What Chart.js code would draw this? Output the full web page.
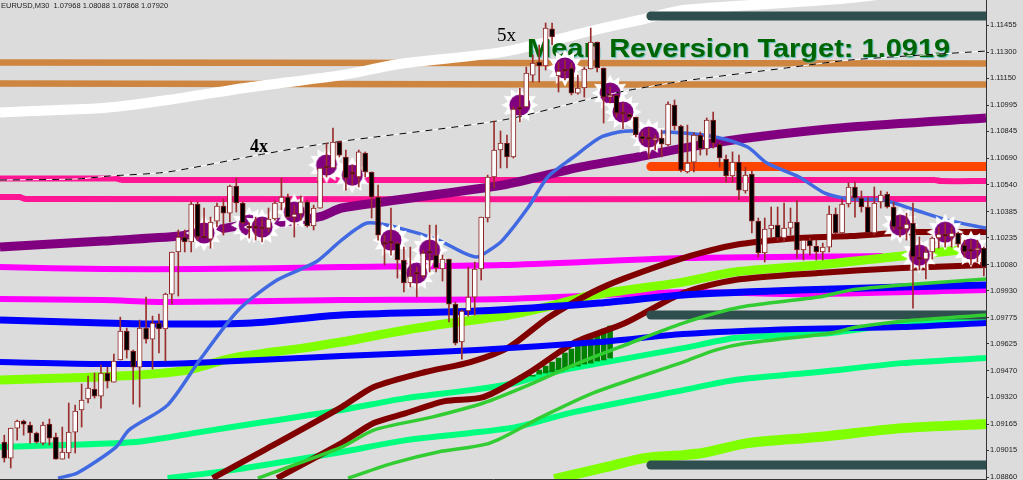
<!DOCTYPE html>
<html>
<head>
<meta charset="utf-8">
<title>EURUSD M30</title>
<script src="https://cdn.jsdelivr.net/npm/chart.js@4"></script>
<style>
  html, body { margin: 0; padding: 0; background: #dcdcdc; overflow: hidden; }
  canvas { display: block; }
</style>
</head>
<body>
<canvas id="chart" width="1023" height="480"></canvas>
<script>
// price axis labels as the platform prints them
const tickPrices = [1.11455, 1.113, 1.1115, 1.10995, 1.10845, 1.1069, 1.1054, 1.10385, 1.10235, 1.1008, 1.0993, 1.09775, 1.09625, 1.0947, 1.0932, 1.09165, 1.09015, 1.0886];

// candles, one per M30 bar, left to right
const candleOpen = [
  1.09062,1.08970,1.09142,1.09182,1.09159,1.09114,1.09056,1.09165,1.09091,1.08964,
  1.08999,1.09119,1.09246,1.09309,1.09366,1.09326,1.09458,1.09406,1.09533,1.09699,
  1.09584,1.09492,1.09716,1.09653,1.09745,1.09711,1.09911,1.10153,1.10239,1.10210,
  1.10428,1.10244,1.10227,1.10330,1.10417,1.10376,1.10531,1.10434,1.10302,1.10302,
  1.10296,1.10290,1.10342,1.10434,1.10468,1.10353,1.10371,1.10440,1.10302,1.10405,
  1.10646,1.10635,1.10784,1.10698,1.10612,1.10583,1.10721,1.10612,1.10468,1.10210,
  1.10216,1.10204,1.10107,1.09975,1.10038,1.10015,1.10158,1.10135,1.10055,1.10112,
  1.09854,1.09636,1.09814,1.09894,1.10055,1.10348,1.10583,1.10738,1.10778,1.10698,
  1.10985,1.10985,1.11168,1.11243,1.11220,1.11433,1.11163,1.11203,1.11209,1.11065,
  1.11094,1.11203,1.11358,1.11209,1.11042,1.11054,1.10956,1.10945,1.10927,1.10818,
  1.10813,1.10795,1.10807,1.10767,1.10996,1.10876,1.10612,1.10669,1.10824,1.10744,
  1.10910,1.10772,1.10686,1.10589,1.10669,1.10503,1.10600,1.10330,1.10147,1.10285,
  1.10307,1.10233,1.10290,1.10325,1.10164,1.10221,1.10187,1.10153,1.10181,1.10371,
  1.10262,1.10428,1.10526,1.10462,1.10411,1.10262,1.10440,1.10485,1.10411,1.10296,
  1.10285,1.10319,1.10124,1.10112,1.10153,1.10233,1.10256,1.10239,1.10262,1.10193,
  1.10170,1.10164,1.10175];
const candleClose = [
  1.08970,1.09142,1.09182,1.09165,1.09114,1.09062,1.09159,1.09085,1.08964,1.09005,
  1.09119,1.09240,1.09303,1.09372,1.09326,1.09458,1.09412,1.09527,1.09699,1.09590,
  1.09492,1.09716,1.09653,1.09745,1.09711,1.09911,1.10153,1.10239,1.10210,1.10428,
  1.10239,1.10233,1.10325,1.10417,1.10376,1.10531,1.10434,1.10319,1.10290,1.10290,
  1.10285,1.10342,1.10434,1.10468,1.10353,1.10371,1.10440,1.10302,1.10405,1.10635,
  1.10635,1.10784,1.10709,1.10577,1.10600,1.10727,1.10612,1.10468,1.10250,1.10198,
  1.10204,1.10107,1.09975,1.10015,1.10026,1.10147,1.10147,1.10061,1.10112,1.09854,
  1.09630,1.09814,1.09894,1.10055,1.10353,1.10583,1.10738,1.10778,1.10698,1.10973,
  1.10973,1.11180,1.11237,1.11220,1.11438,1.11387,1.11191,1.11191,1.11065,1.11094,
  1.11203,1.11358,1.11209,1.11042,1.11054,1.10950,1.10945,1.10927,1.10824,1.10801,
  1.10801,1.10807,1.10772,1.11002,1.10876,1.10623,1.10663,1.10824,1.10744,1.10910,
  1.10778,1.10692,1.10589,1.10669,1.10508,1.10594,1.10330,1.10147,1.10285,1.10307,
  1.10233,1.10290,1.10325,1.10164,1.10221,1.10187,1.10153,1.10181,1.10371,1.10262,
  1.10428,1.10526,1.10462,1.10411,1.10262,1.10434,1.10480,1.10411,1.10296,1.10285,
  1.10313,1.10124,1.10112,1.10153,1.10233,1.10256,1.10244,1.10262,1.10198,1.10153,
  1.10158,1.10175,1.10066];
const candleHigh = [
  1.09102,1.09142,1.09188,1.09188,1.09177,1.09119,1.09177,1.09194,1.09114,1.09148,
  1.09286,1.09274,1.09395,1.09441,1.09458,1.09504,1.09492,1.09567,1.09779,1.09716,
  1.09590,1.09762,1.09894,1.09785,1.09797,1.09917,1.10153,1.10279,1.10279,1.10440,
  1.10440,1.10405,1.10353,1.10434,1.10457,1.10537,1.10577,1.10440,1.10319,1.10353,
  1.10348,1.10405,1.10445,1.10577,1.10485,1.10422,1.10474,1.10451,1.10422,1.10635,
  1.10778,1.10864,1.10790,1.10738,1.10652,1.10738,1.10727,1.10612,1.10537,1.10250,
  1.10405,1.10210,1.10181,1.10181,1.10066,1.10164,1.10307,1.10307,1.10135,1.10112,
  1.09866,1.09820,1.10066,1.10095,1.10353,1.10594,1.10904,1.10847,1.10824,1.10985,
  1.11094,1.11214,1.11283,1.11341,1.11467,1.11467,1.11243,1.11255,1.11237,1.11168,
  1.11214,1.11438,1.11358,1.11209,1.11100,1.11054,1.11008,1.10950,1.10927,1.10841,
  1.10864,1.10824,1.10853,1.11014,1.11025,1.10881,1.10881,1.10836,1.10841,1.10922,
  1.10956,1.10778,1.10709,1.10727,1.10709,1.10640,1.10617,1.10348,1.10348,1.10411,
  1.10411,1.10434,1.10405,1.10451,1.10221,1.10233,1.10221,1.10204,1.10417,1.10405,
  1.10457,1.10549,1.10554,1.10503,1.10468,1.10526,1.10503,1.10497,1.10440,1.10365,
  1.10376,1.10434,1.10239,1.10181,1.10239,1.10296,1.10319,1.10296,1.10267,1.10221,
  1.10221,1.10221,1.10181];
const candleLow = [
  1.08947,1.08913,1.09073,1.09102,1.09056,1.09056,1.09045,1.09045,1.08964,1.08964,
  1.08970,1.08999,1.09148,1.09286,1.09314,1.09257,1.09372,1.09406,1.09533,1.09544,
  1.09280,1.09263,1.09630,1.09481,1.09573,1.09527,1.09854,1.09900,1.10153,1.10153,
  1.10221,1.10233,1.10175,1.10296,1.10250,1.10325,1.10382,1.10313,1.10233,1.10221,
  1.10210,1.10267,1.10336,1.10394,1.10348,1.10239,1.10336,1.10296,1.10279,1.10405,
  1.10583,1.10635,1.10698,1.10508,1.10537,1.10526,1.10583,1.10348,1.10221,1.10078,
  1.10135,1.10003,1.09923,1.09952,1.09894,1.10003,1.10038,1.10038,1.09986,1.09751,
  1.09619,1.09538,1.09785,1.09791,1.09992,1.10325,1.10520,1.10635,1.10635,1.10692,
  1.10899,1.10985,1.11128,1.11128,1.11197,1.11341,1.11071,1.11140,1.11054,1.11059,
  1.11042,1.11203,1.11186,1.10893,1.11008,1.10927,1.10859,1.10910,1.10813,1.10778,
  1.10692,1.10738,1.10698,1.10761,1.10853,1.10612,1.10606,1.10612,1.10709,1.10709,
  1.10749,1.10640,1.10554,1.10554,1.10451,1.10491,1.10262,1.10124,1.10095,1.10233,
  1.10221,1.10210,1.10250,1.10118,1.10107,1.10135,1.10107,1.10107,1.10153,1.10256,
  1.10256,1.10411,1.10353,1.10382,1.10262,1.10250,1.10405,1.10405,1.10279,1.10239,
  1.10221,1.09831,1.10049,1.09998,1.10112,1.10175,1.10181,1.10181,1.10181,1.10124,
  1.10078,1.10095,1.10015];

// moving averages and levels: bar positions and their prices
const copperUpperBars = [0, 153];
const copperUpperPrices = [1.1124, 1.11235];
const copperLowerBars = [0, 92, 153];
const copperLowerPrices = [1.1112, 1.11114, 1.11114];
const whiteBars = [0, 5, 16, 26, 39, 53, 62, 78, 93, 100, 106, 132, 153];
const whitePrices = [1.10953, 1.10962, 1.10979, 1.11025, 1.111, 1.11168, 1.11232, 1.11301, 1.11433, 1.1149, 1.11542, 1.1161, 1.11714];
const trendBars = [0, 12, 17, 26, 40, 51, 78, 92, 97, 106, 122, 132, 153];
const trendPrices = [1.10566, 1.10572, 1.10589, 1.10612, 1.10709, 1.10778, 1.1091, 1.11036, 1.11077, 1.11134, 1.11209, 1.11255, 1.11306];
const pinkUpperBars = [0, 18, 19, 145, 146, 153];
const pinkUpperPrices = [1.10574, 1.10574, 1.10566, 1.10566, 1.1056, 1.1056];
const pinkLowerBars = [0, 3, 4, 153];
const pinkLowerPrices = [1.10468, 1.10468, 1.10457, 1.10457];
const purpleBars = [0, 16, 28, 31, 35, 39, 44, 50, 53, 78, 90, 99, 106, 116, 132, 153];
const purplePrices = [1.10181, 1.10216, 1.10244, 1.10267, 1.1029, 1.10313, 1.10325, 1.10359, 1.10405, 1.10537, 1.1064, 1.10698, 1.10749, 1.10807, 1.1087, 1.10922];
const royalBars = [9, 12, 18, 20, 26, 31, 37, 43, 49, 53, 57, 62, 68, 72, 74, 76, 78, 82, 85, 89, 93, 96, 98, 106, 111, 116, 119, 124, 128, 132, 137, 142, 147, 153];
const royalPrices = [1.08855, 1.08884, 1.09033, 1.09131, 1.09274, 1.09533, 1.0982, 1.09992, 1.10095, 1.10221, 1.10319, 1.1029, 1.10221, 1.10147, 1.10124, 1.10164, 1.10221, 1.10411, 1.10583, 1.10698, 1.10807, 1.10841, 1.10847, 1.10836, 1.10813, 1.10755, 1.10663, 1.10583, 1.10491, 1.10457, 1.10451, 1.10394, 1.10336, 1.1029];
const magentaUpperBars = [0, 16, 31, 53, 78, 106, 137];
const magentaUpperPrices = [1.10066, 1.10055, 1.10055, 1.10066, 1.10078, 1.10118, 1.1013];
const magentaLowerBars = [0, 16, 26, 53, 78, 106, 124, 153];
const magentaLowerPrices = [1.09883, 1.09877, 1.09866, 1.09877, 1.09883, 1.09923, 1.09911, 1.09934];
const blueUpperBars = [0, 16, 26, 39, 53, 74, 93, 106, 124, 140, 153];
const blueUpperPrices = [1.09762, 1.09745, 1.09739, 1.09745, 1.09791, 1.09814, 1.0986, 1.09906, 1.09934, 1.09952, 1.09963];
const blueLowerBars = [0, 16, 29, 53, 74, 93, 106, 124, 140, 153];
const blueLowerPrices = [1.09521, 1.0951, 1.09515, 1.09556, 1.0959, 1.09636, 1.09682, 1.09711, 1.09722, 1.09745];
const limeUpperBars = [0, 10, 21, 29, 36, 47, 53, 63, 70, 79, 86, 92, 106, 114, 127, 137, 149];
const limeUpperPrices = [1.09418, 1.09429, 1.09446, 1.09475, 1.09544, 1.09601, 1.09636, 1.09705, 1.09745, 1.09791, 1.09848, 1.09906, 1.0998, 1.10038, 1.10078, 1.10118, 1.10164];
const limeLowerBars = [86, 94, 100, 106, 109, 116, 127, 140, 153];
const limeLowerPrices = [1.0885, 1.08918, 1.0897, 1.08987, 1.08999, 1.09056, 1.09091, 1.09142, 1.09165];
const springUpperBars = [0, 10, 21, 31, 41, 53, 63, 73, 80, 86, 94, 106, 114, 122, 129, 142, 153];
const springUpperPrices = [1.09033, 1.09045, 1.09062, 1.09119, 1.09177, 1.09246, 1.09314, 1.0936, 1.09401, 1.09464, 1.09521, 1.09601, 1.09659, 1.09676, 1.09688, 1.09751, 1.09774];
const springLowerBars = [26, 36, 53, 63, 73, 80, 89, 106, 114, 127, 140, 153];
const springLowerPrices = [1.08855, 1.08901, 1.09005, 1.09073, 1.09114, 1.09148, 1.09234, 1.0936, 1.09418, 1.09464, 1.09515, 1.09544];
const maroonUpperBars = [33, 41, 53, 58, 66, 73, 79, 85, 92, 97, 106, 114, 124, 132, 142, 153];
const maroonUpperPrices = [1.08855, 1.09016, 1.09263, 1.09378, 1.09464, 1.09521, 1.09607, 1.09774, 1.09923, 1.10003, 1.10118, 1.10193, 1.10233, 1.10244, 1.10267, 1.10267];
const maroonLowerBars = [43, 53, 58, 63, 69, 75, 82, 89, 97, 106, 114, 127, 140, 153];
const maroonLowerPrices = [1.08855, 1.09056, 1.09171, 1.09228, 1.09297, 1.0932, 1.09458, 1.0963, 1.09745, 1.09917, 1.09992, 1.10032, 1.10061, 1.10078];
const greenUpperBars = [40, 53, 58, 67, 75, 82, 89, 97, 106, 115, 127, 132, 140, 153];
const greenUpperPrices = [1.08855, 1.09033, 1.09131, 1.09205, 1.09286, 1.09389, 1.09504, 1.09619, 1.09745, 1.09837, 1.09894, 1.09934, 1.09963, 1.09998];
const greenLowerBars = [54, 61, 68, 76, 84, 92, 106, 111, 116, 129, 133, 142, 153];
const greenLowerPrices = [1.08855, 1.08941, 1.09005, 1.09056, 1.09205, 1.09343, 1.09521, 1.0959, 1.0963, 1.09688, 1.09722, 1.09762, 1.09791];

// support / target levels start at this bar and run to the right edge
const levelBars = [101, 153];
const orangeLevel = 1.10643;
const slateLevels = [1.11507, 1.09791, 1.0893];

// histogram between the crossing averages
const histBars = [82, 83, 84, 85, 86, 87, 88, 89, 90, 91, 92, 93, 94];
const histTop = [1.09445, 1.09475, 1.09498, 1.09521, 1.09544, 1.09573, 1.09596, 1.09619, 1.09642, 1.0967, 1.09693, 1.0971, 1.09728];
const histBottom = [1.09440, 1.09452, 1.09458, 1.09464, 1.09475, 1.09481, 1.09492, 1.09498, 1.0951, 1.09515, 1.09527, 1.09533, 1.09544];

// reversal markers sit on these bars
const markerBars = [31, 38, 40, 45, 50, 54, 60, 64, 66, 80, 87, 94, 96, 100, 139, 142, 146, 150];
const markerPrices = [1.10262, 1.10307, 1.10296, 1.10382, 1.10652, 1.10594, 1.10221, 1.10032, 1.10164, 1.10996, 1.11209, 1.11065, 1.10956, 1.10813, 1.10307, 1.10135, 1.10267, 1.1017];

const BAR_SHIFT = 0.667; // candle centre inside its slot on the time axis

function points(bars, prices) {
  return bars.map((b, i) => ({ x: b, y: prices[i] }));
}

function lineSet(label, bars, prices, color, width, order) {
  return {
    type: 'line',
    label,
    data: points(bars, prices),
    borderColor: color,
    borderWidth: width,
    pointRadius: 0,
    tension: 0.25,
    borderCapStyle: 'butt',
    fill: false,
    order,
  };
}

function levelSet(label, price, color, order) {
  const set = lineSet(label, levelBars, [price, price], color, 9, order);
  set.borderCapStyle = 'round';
  return set;
}

// white starburst with the purple dot on top, used as the marker image
function burstImage() {
  const c = document.createElement('canvas');
  c.width = 40;
  c.height = 40;
  const g = c.getContext('2d');
  g.translate(20, 20);
  g.fillStyle = '#ffffff';
  g.beginPath();
  const spikes = 12;
  for (let i = 0; i < spikes * 2; i++) {
    const r = i % 2 === 0 ? 18.5 : 12.5;
    const a = (Math.PI * i) / spikes - Math.PI / 2;
    g.lineTo(r * Math.cos(a), r * Math.sin(a));
  }
  g.closePath();
  g.fill();
  g.fillStyle = '#800080';
  g.beginPath();
  g.arc(0, 0, 10.5, 0, Math.PI * 2);
  g.fill();
  return c;
}

const candleBars = candleOpen.map((_, i) => i + BAR_SHIFT);

const datasets = [
  {
    type: 'bar',
    label: 'bodies',
    data: candleBars.map((x, i) => ({ x, y: [candleOpen[i], candleClose[i]] })),
    backgroundColor: candleOpen.map((o, i) => (candleClose[i] > o ? '#ffffff' : '#000000')),
    borderColor: '#8b2020',
    borderWidth: 1,
    borderSkipped: false,
    barThickness: 5,
    grouped: false,
    order: 1,
  },
  {
    type: 'bar',
    label: 'wicks',
    data: candleBars.map((x, i) => ({ x, y: [candleLow[i], candleHigh[i]] })),
    backgroundColor: '#9b2d2d',
    barThickness: 1,
    grouped: false,
    order: 2,
  },
  Object.assign(lineSet('trend dash', trendBars, trendPrices, '#000000', 1, 2.4), { borderDash: [7, 6] }),
  lineSet('trend', trendBars, trendPrices, '#ffffff', 1, 2.5),
  {
    type: 'line',
    label: 'markers',
    data: markerBars.map((b, i) => ({ x: b + BAR_SHIFT, y: markerPrices[i] })),
    showLine: false,
    pointStyle: burstImage(),
    pointRadius: 18,
    order: 3,
  },
  lineSet('ma royal', royalBars, royalPrices, '#4169e1', 3.5, 6),
  lineSet('ma green upper', greenUpperBars, greenUpperPrices, '#32cd32', 3.5, 7),
  lineSet('ma green lower', greenLowerBars, greenLowerPrices, '#32cd32', 3.5, 7),
  lineSet('ma purple', purpleBars, purplePrices, '#800080', 9, 8),
  lineSet('ma blue upper', blueUpperBars, blueUpperPrices, '#0000ff', 7, 9),
  lineSet('ma blue lower', blueLowerBars, blueLowerPrices, '#0000ff', 6, 9),
  levelSet('level orange', orangeLevel, '#ff4500', 10),
  levelSet('level slate 1', slateLevels[0], '#2f4f4f', 10),
  levelSet('level slate 2', slateLevels[1], '#2f4f4f', 10),
  levelSet('level slate 3', slateLevels[2], '#2f4f4f', 10),
  lineSet('ma maroon upper', maroonUpperBars, maroonUpperPrices, '#800000', 6, 11),
  lineSet('ma maroon lower', maroonLowerBars, maroonLowerPrices, '#800000', 6, 11),
  {
    type: 'bar',
    label: 'histogram',
    data: histBars.map((b, i) => ({ x: b + BAR_SHIFT, y: [histBottom[i], histTop[i]] })),
    backgroundColor: '#008000',
    barThickness: 5,
    grouped: false,
    order: 12,
  },
  lineSet('ma lime upper', limeUpperBars, limeUpperPrices, '#7fff00', 9, 13),
  lineSet('ma lime lower', limeLowerBars, limeLowerPrices, '#7fff00', 10, 13),
  lineSet('ma spring upper', springUpperBars, springUpperPrices, '#00ff7f', 6, 14),
  lineSet('ma spring lower', springLowerBars, springLowerPrices, '#00ff7f', 6, 14),
  lineSet('ma magenta upper', magentaUpperBars, magentaUpperPrices, '#ff00ff', 6, 15),
  lineSet('ma magenta lower', magentaLowerBars, magentaLowerPrices, '#ff00ff', 6, 15),
  lineSet('pink upper', pinkUpperBars, pinkUpperPrices, '#ff1493', 6, 16),
  lineSet('pink lower', pinkLowerBars, pinkLowerPrices, '#ff1493', 6, 16),
  lineSet('white band', whiteBars, whitePrices, '#ffffff', 10, 17),
  lineSet('copper upper', copperUpperBars, copperUpperPrices, '#cd853f', 6.5, 18),
  lineSet('copper lower', copperLowerBars, copperLowerPrices, '#cd853f', 6.5, 18),
];

// Notes written on the chart. Painted just under the markers so the candles stay on top of them.
const chartNotes = {
  id: 'chartNotes',
  beforeDatasetDraw(chart, args) {
    if (chart.data.datasets[args.index].label !== 'markers') return;
    const ctx = chart.ctx;
    ctx.save();
    ctx.textBaseline = 'alphabetic';
    ctx.textAlign = 'left';
    ctx.fillStyle = '#000000';
    ctx.font = 'bold 18px "Liberation Serif"';
    ctx.fillText('4x', 250, 152);
    ctx.font = '19px "Liberation Serif"';
    ctx.fillText('5x', 497, 41);
    ctx.fillStyle = '#222222';
    ctx.font = '7.5px "Liberation Sans"';
    ctx.fillText('EURUSD,M30  1.07968 1.08088 1.07868 1.07920', 1, 8);
    // the banner is stretched sideways in the original
    ctx.shadowColor = 'rgba(0, 170, 170, 0.6)';
    ctx.shadowOffsetX = 1;
    ctx.shadowOffsetY = 1;
    ctx.shadowBlur = 1;
    ctx.fillStyle = '#006400';
    ctx.font = 'bold 26px "Liberation Sans"';
    ctx.translate(527, 57);
    ctx.scale(1.115, 1);
    ctx.fillText('Mean Reversion Target: 1.0919', 0, 0);
    ctx.restore();
  },
};

new Chart(document.getElementById('chart'), {
  type: 'bar',
  data: { datasets },
  plugins: [chartNotes],
  options: {
    responsive: false,
    animation: false,
    events: [],
    layout: { padding: 0, autoPadding: false },
    plugins: { legend: { display: false }, tooltip: { enabled: false }, title: { display: false } },
    scales: {
      x: {
        type: 'linear',
        min: 0,
        max: 153,
        offset: false,
        grid: { display: false, drawTicks: false },
        border: { display: true, color: '#333333' },
        ticks: { display: false },
        afterFit: (scale) => { scale.height = 1; scale.paddingLeft = 0; scale.paddingRight = 0; },
      },
      y: {
        type: 'linear',
        position: 'right',
        min: 1.0885,
        max: 1.11599,
        grid: { drawOnChartArea: false, drawTicks: true, tickLength: 3, color: '#333333' },
        border: { display: true, color: '#333333' },
        afterBuildTicks: (scale) => { scale.ticks = tickPrices.map((value) => ({ value })); },
        afterFit: (scale) => { scale.width = 37; scale.paddingTop = 0; scale.paddingBottom = 0; },
        ticks: {
          autoSkip: false,
          padding: 1,
          color: '#222222',
          font: { family: '"Liberation Sans"', size: 7.5 },
          callback: (v) => v.toFixed(5),
        },
      },
    },
  },
});
</script>
</body>
</html>
